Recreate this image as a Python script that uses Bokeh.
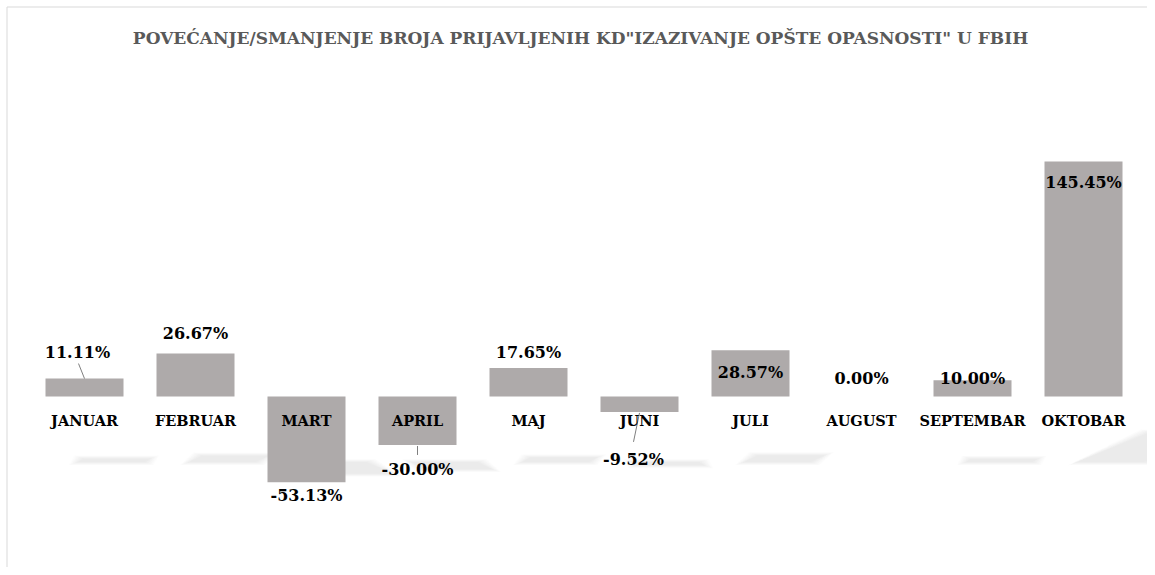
from bokeh.plotting import figure
from bokeh.models import Range1d, ColumnDataSource
from bokeh.core.properties import value
from bokeh.embed import file_html
from bokeh.resources import INLINE

# ---- data ----
months = ["JANUAR", "FEBRUAR", "MART", "APRIL", "MAJ", "JUNI",
          "JULI", "AUGUST", "SEPTEMBAR", "OKTOBAR"]
values = [11.11, 26.67, -53.13, -30.00, 17.65, -9.52, 28.57, 0.00, 10.00, 145.45]
title_text = 'POVEĆANJE/SMANJENJE  BROJA PRIJAVLJENIH KD"IZAZIVANJE OPŠTE OPASNOSTI" U FBIH'

# ---- label placement (screen px, relative to bar end; +y = down) ----
label_dx = [-7, 0, 0, 0, 0, -6, 0, 0, 0, 0]
label_dy = [-26, -20, 13, 25, -15, 48, 22, -18, -2, 21]
# leader lines: (bar index, x0, y0, x1, y1) px relative to bar end
leaders = [(0, -6, -15, 0, 0), (3, 0, 1, 0, 10), (5, 0, 1, -6, 30)]

# ---- layout constants ----
W, H = 1147, 567
PX_X = 111.0          # px per category
PX_Y = 1.6157         # px per percent
X0_PX = 84.0          # frame px of first category centre
Y0_PX = 396.0         # frame px of zero line
FONT = "DejaVu Serif"
BAR = "#AEAAAA"

x_start = -X0_PX / PX_X
x_end = (W - X0_PX) / PX_X
y_end = Y0_PX / PX_Y
y_start = -(H - Y0_PX) / PX_Y

p = figure(width=W, height=H, output_backend="svg", toolbar_location=None,
           x_range=Range1d(x_start, x_end), y_range=Range1d(y_start, y_end),
           min_border=0, min_border_left=0, min_border_right=0,
           min_border_top=0, min_border_bottom=0)
p.xaxis.visible = False
p.yaxis.visible = False
p.grid.visible = False
p.outline_line_color = None
p.background_fill_color = "white"
p.border_fill_color = "white"

xs = list(range(len(months)))

# ---- soft shadows (decorative reflection) ----
base = -40.6
sh_off = 0.24
half = 0.30
for grow in [9, 8, 7, 6, 5, 4, 3, 2, 1, 0]:
    pxs, pys = [], []
    for i, v in zip(xs, values):
        if v == 0:
            continue
        t = 0.8 + 0.12 * abs(v)
        s = 0.0045 * abs(v)
        g = grow / PX_X
        gy = grow * 0.35 / PX_Y
        xl = i - half + sh_off - g
        xr = i + half + sh_off + g
        if v > 0:
            yb, yt = base - gy, base + t + gy
            pxs.append([xl, xr, xr + s, xl + s])
            pys.append([yb, yb, yt, yt])
        else:
            yt, yb = base + gy, base - t - gy
            pxs.append([xl, xr, xr + s, xl + s])
            pys.append([yt, yt, yb, yb])
    p.patches(pxs, pys, fill_color="#9A9A9A", fill_alpha=0.025, line_color=None)

# ---- bars ----
src = ColumnDataSource(dict(x=xs, top=values, months=months,
                            labels=[f"{v:.2f}%" for v in values],
                            zero=[0] * len(values),
                            dx=label_dx, dy=label_dy))
p.vbar(x="x", top="top", bottom=0, width=78 / PX_X, source=src,
       fill_color=BAR, line_color=None)

# ---- leader lines ----
lx0, ly0, lx1, ly1 = [], [], [], []
for i, ax, ay, bx, by in leaders:
    v = values[i]
    lx0.append(i + ax / PX_X); ly0.append(v - ay / PX_Y)
    lx1.append(i + bx / PX_X); ly1.append(v - by / PX_Y)
p.segment(lx0, ly0, lx1, ly1, line_color="#7F7F7F", line_width=1)

# ---- category labels ----
p.text(x="x", y="zero", text="months", source=src, y_offset=24,
       text_font=value(FONT), text_font_style="bold", text_font_size="14.5px",
       text_color="black", text_align="center", text_baseline="middle")

# ---- value labels ----
p.text(x="x", y="top", text="labels", source=src, x_offset="dx", y_offset="dy",
       text_font=value(FONT), text_font_style="bold", text_font_size="16px",
       text_color="black", text_align="center", text_baseline="middle")

# ---- title ----
p.text(x=[x_start + 583 / PX_X], y=[y_end], text=[title_text], y_offset=37,
       text_font=value(FONT), text_font_style="bold", text_font_size="17px",
       text_color="#595959", text_align="center", text_baseline="middle")

# ---- chart border (top & left) ----
bx = x_start + 6.5 / PX_X
by = y_end - 6.5 / PX_Y
p.line([bx, bx, x_end], [y_start, by, by], line_color="#D9D9D9", line_width=1)

open("out.html", "w").write(file_html(p, INLINE))
